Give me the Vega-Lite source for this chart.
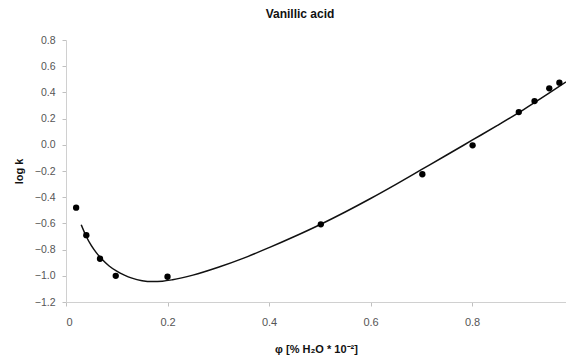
{
  "$schema": "https://vega.github.io/schema/vega-lite/v6.json",
  "autosize": "none",
  "width": 500,
  "height": 262,
  "padding": {"left": 66, "top": 40, "right": 0, "bottom": 56},
  "background": "white",
  "title": {"text": "Vanillic acid", "font": "Liberation Sans", "fontSize": 12, "fontWeight": "bold", "color": "#111", "anchor": "middle", "dx": -16, "offset": 14},
  "datasets": {
    "points": [
      {"phi": 0.02, "logk": -0.48},
      {"phi": 0.04, "logk": -0.69},
      {"phi": 0.067, "logk": -0.87},
      {"phi": 0.098, "logk": -1.0},
      {"phi": 0.2, "logk": -1.007},
      {"phi": 0.502, "logk": -0.607},
      {"phi": 0.702, "logk": -0.225},
      {"phi": 0.801, "logk": -0.004},
      {"phi": 0.892, "logk": 0.25},
      {"phi": 0.923, "logk": 0.334},
      {"phi": 0.952, "logk": 0.431},
      {"phi": 0.972, "logk": 0.474}
    ],
    "curve": [
      {"phi": 0.03, "logk": -0.61},
      {"phi": 0.04, "logk": -0.70},
      {"phi": 0.05, "logk": -0.77},
      {"phi": 0.06, "logk": -0.825},
      {"phi": 0.07, "logk": -0.87},
      {"phi": 0.085, "logk": -0.925},
      {"phi": 0.10, "logk": -0.965},
      {"phi": 0.115, "logk": -0.995},
      {"phi": 0.13, "logk": -1.018},
      {"phi": 0.15, "logk": -1.037},
      {"phi": 0.17, "logk": -1.044},
      {"phi": 0.19, "logk": -1.041},
      {"phi": 0.21, "logk": -1.03},
      {"phi": 0.25, "logk": -0.995},
      {"phi": 0.30, "logk": -0.935},
      {"phi": 0.35, "logk": -0.865},
      {"phi": 0.40, "logk": -0.785},
      {"phi": 0.45, "logk": -0.70},
      {"phi": 0.50, "logk": -0.61},
      {"phi": 0.55, "logk": -0.513},
      {"phi": 0.60, "logk": -0.41},
      {"phi": 0.65, "logk": -0.302},
      {"phi": 0.70, "logk": -0.19},
      {"phi": 0.75, "logk": -0.078},
      {"phi": 0.80, "logk": 0.035},
      {"phi": 0.85, "logk": 0.148},
      {"phi": 0.90, "logk": 0.265},
      {"phi": 0.95, "logk": 0.39},
      {"phi": 0.985, "logk": 0.48}
    ]
  },
  "config": {
    "view": {"stroke": null},
    "axis": {
      "grid": false,
      "domainColor": "#d0d0d0",
      "tickColor": "#c0c0c0",
      "tickSize": 4,
      "labelFont": "Liberation Sans",
      "labelFontSize": 11,
      "labelColor": "#555",
      "titleFont": "Liberation Sans",
      "titleFontSize": 11,
      "titleFontWeight": "bold",
      "titleColor": "#111"
    }
  },
  "encoding": {
    "x": {"field": "phi", "type": "quantitative", "scale": {"domain": [0, 0.985], "nice": false},
      "axis": {"values": [0, 0.2, 0.4, 0.6, 0.8], "tickCount": 20, "labelOverlap": false, "labelExpr": "datum.value == 0 ? '0' : format(datum.value, '.1f')", "title": "φ [% H₂O * 10⁻²]", "labelPadding": 10, "titlePadding": 16}},
    "y": {"field": "logk", "type": "quantitative", "scale": {"domain": [-1.2, 0.8], "nice": false},
      "axis": {"tickCount": 20, "values": [-1.2, -1.0, -0.8, -0.6, -0.4, -0.2, 0.0, 0.2, 0.4, 0.6, 0.8], "labelOverlap": false, "labelFontSize": 10.5, "format": ".1f", "title": "log k", "labelPadding": 7, "titlePadding": 10}}
  },
  "layer": [
    {
      "data": {"name": "curve"},
      "mark": {"type": "line", "color": "#111", "strokeWidth": 1.5, "interpolate": "monotone", "clip": true}
    },
    {
      "data": {"name": "points"},
      "mark": {"type": "point", "filled": true, "color": "#000", "size": 40, "opacity": 1}
    }
  ]
}
